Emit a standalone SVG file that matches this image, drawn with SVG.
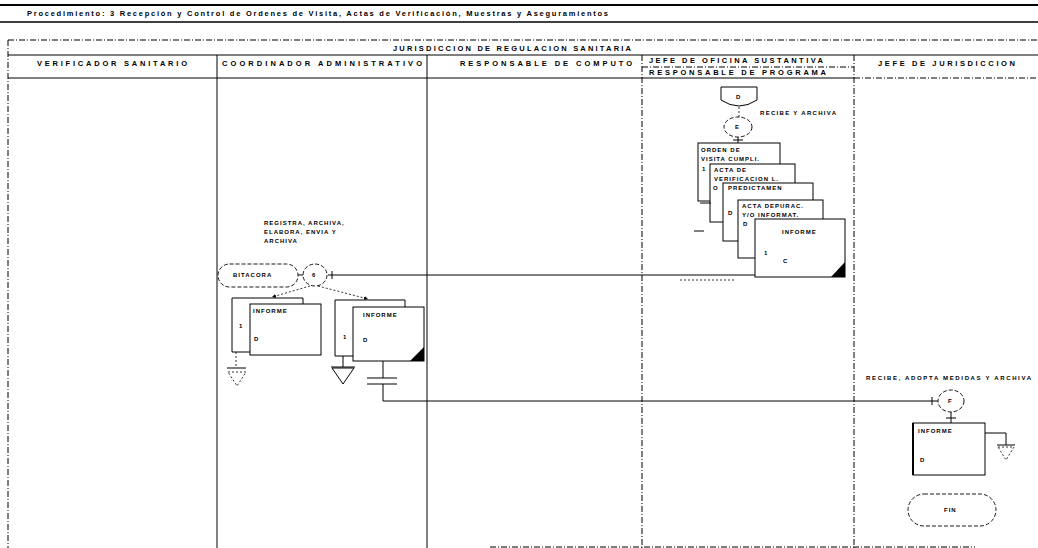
<svg xmlns="http://www.w3.org/2000/svg" width="1038" height="548" viewBox="0 0 1038 548">
<defs>
<style>
.t{font-family:"Liberation Sans",Arial,sans-serif;font-weight:bold;fill:#000}
.ti{font-size:7.5px}
.h{font-size:7.5px}
.s{font-size:6px;letter-spacing:1px}
.ln{stroke:#000;stroke-width:1;fill:none}
.dl{stroke:#000;stroke-width:1;fill:none;stroke-dasharray:6 2 1 2}
.dt{stroke:#000;stroke-width:0.8;fill:none;stroke-dasharray:2 2}
.doc{stroke:#000;stroke-width:1;fill:#fff}
.shape{stroke:#000;stroke-width:0.9;fill:#fff;stroke-dasharray:4 2}
</style>
<marker id="ar" viewBox="0 0 6 6" refX="6" refY="3" markerWidth="5" markerHeight="5" orient="auto"><path d="M0,0 L6,3 L0,6 Z" fill="#000"/></marker>
</defs>
<rect width="1038" height="548" fill="#fff"/>

<g id="frame">
<line x1="0" y1="5" x2="1038" y2="5" stroke="#000" stroke-width="2"/>
<line x1="0" y1="22" x2="1038" y2="22" stroke="#000" stroke-width="1.5"/>
<text class="t ti" x="27" y="16" textLength="581" lengthAdjust="spacing">Procedimiento: 3 Recepción y Control de Ordenes de Visita, Actas de Verificación, Muestras y Aseguramientos</text>
<line x1="8" y1="40" x2="1038" y2="40" class="dl"/>
<text class="t h" x="393" y="51" textLength="238" lengthAdjust="spacing">JURISDICCION DE REGULACION SANITARIA</text>
<line x1="8" y1="55" x2="1038" y2="55" class="ln"/>
<line x1="8" y1="78" x2="854" y2="78" class="ln"/>
<line x1="854" y1="78" x2="1038" y2="78" class="dl"/>
<line x1="642" y1="67" x2="854" y2="67" class="dl"/>
<line x1="8" y1="40" x2="8" y2="548" class="dl"/>
<line x1="217" y1="55" x2="217" y2="548" class="ln"/>
<line x1="427" y1="55" x2="427" y2="548" class="ln"/>
<line x1="642" y1="55" x2="642" y2="548" class="dl"/>
<line x1="854" y1="55" x2="854" y2="548" class="dl"/>
<line x1="490" y1="547" x2="975" y2="547" class="dl"/>
<text class="t h" x="37" y="66" textLength="150" lengthAdjust="spacing">VERIFICADOR SANITARIO</text>
<text class="t h" x="222" y="66" textLength="200" lengthAdjust="spacing">COORDINADOR ADMINISTRATIVO</text>
<text class="t h" x="460" y="66" textLength="172" lengthAdjust="spacing">RESPONSABLE DE COMPUTO</text>
<text class="t h" x="649" y="63" textLength="174" lengthAdjust="spacing">JEFE DE OFICINA SUSTANTIVA</text>
<text class="t h" x="649" y="75" textLength="177" lengthAdjust="spacing">RESPONSABLE DE PROGRAMA</text>
<text class="t h" x="878" y="66" textLength="137" lengthAdjust="spacing">JEFE DE JURISDICCION</text>
</g>

<g id="connectors">
<line x1="739" y1="107" x2="739" y2="117" class="dt"/>
<line x1="738" y1="137" x2="738" y2="143" class="ln"/>
<line x1="733" y1="140" x2="743" y2="140" class="ln"/>
<line x1="328" y1="275" x2="755" y2="275" class="ln"/>
<line x1="332" y1="271" x2="332" y2="279" class="ln"/>
<line x1="298" y1="275" x2="303" y2="275" class="ln"/>
<line x1="310" y1="286" x2="272" y2="297" class="dt" marker-end="url(#ar)"/>
<line x1="318" y1="286" x2="368" y2="299" class="dt" marker-end="url(#ar)"/>
<line x1="383" y1="361" x2="383" y2="378" class="ln"/>
<line x1="367" y1="378" x2="397" y2="378" class="ln" stroke-width="1.5"/>
<line x1="367" y1="384" x2="397" y2="384" class="ln" stroke-width="1.5"/>
<line x1="383" y1="384" x2="383" y2="401" class="ln"/>
<line x1="383" y1="401" x2="938" y2="401" class="ln"/>
<line x1="932" y1="397" x2="932" y2="405" class="ln"/>
<line x1="951" y1="412" x2="951" y2="423" class="ln"/>
<line x1="946" y1="418" x2="956" y2="418" class="ln"/>
</g>

<g id="node-d">
<path d="M721,87 H757 V100 Q739,112 721,100 Z" class="doc"/>
<text class="t s" x="736" y="99">D</text>
</g>

<g id="node-op5">
<text class="t s" x="760" y="115" textLength="77" lengthAdjust="spacing">RECIBE Y ARCHIVA</text>
<ellipse cx="738" cy="127" rx="14" ry="10" class="shape"/>
<text class="t s" x="735" y="129">E</text>
</g>

<g id="node-stack">
<rect x="698" y="143" width="82" height="58" class="doc"/>
<text class="t s" x="701" y="152">ORDEN DE</text>
<text class="t s" x="701" y="161">VISITA CUMPLI.</text>
<text class="t s" x="702" y="171">1</text>
<rect x="710" y="164" width="85" height="58" class="doc"/>
<text class="t s" x="714" y="172">ACTA DE</text>
<text class="t s" x="714" y="181">VERIFICACION L.</text>
<text class="t s" x="713" y="190">O</text>
<rect x="723" y="183" width="90" height="58" class="doc"/>
<text class="t s" x="728" y="190">PREDICTAMEN</text>
<text class="t s" x="728" y="215">D</text>
<rect x="738" y="200" width="85" height="58" class="doc"/>
<text class="t s" x="742" y="208">ACTA DEPURAC.</text>
<text class="t s" x="742" y="217">Y/O INFORMAT.</text>
<text class="t s" x="743" y="226">D</text>
<rect x="755" y="219" width="90" height="58" class="doc"/>
<text class="t s" x="782" y="234">INFORME</text>
<text class="t s" x="764" y="255">1</text>
<text class="t s" x="783" y="263">C</text>
<polygon points="845,262 845,277 831,277" fill="#000"/>
<line x1="700" y1="203" x2="711" y2="203" class="ln"/>
<line x1="694" y1="231" x2="704" y2="231" class="ln"/>
<line x1="680" y1="280" x2="735" y2="280" class="dt"/>
</g>

<g id="node-op6">
<text class="t s" x="264" y="225">REGISTRA, ARCHIVA,</text>
<text class="t s" x="264" y="234">ELABORA, ENVIA Y</text>
<text class="t s" x="264" y="243">ARCHIVA</text>
<ellipse cx="315" cy="275" rx="12" ry="11" class="shape"/>
<text class="t s" x="312" y="277">6</text>
</g>

<g id="node-bitacora">
<rect x="218" y="264" width="80" height="23" rx="11.5" class="shape"/>
<text class="t s" x="233" y="277">BITACORA</text>
</g>

<g id="node-informe-a">
<path d="M232,352 V298 H303 V304" class="doc"/>
<path d="M232,352 H250" class="ln"/>
<rect x="250" y="304" width="71" height="51" class="doc"/>
<text class="t s" x="253" y="313">INFORME</text>
<text class="t s" x="239" y="328">1</text>
<text class="t s" x="254" y="341">D</text>
<line x1="236" y1="352" x2="236" y2="368" class="dt"/>
<line x1="227" y1="368" x2="246" y2="368" class="ln"/>
<polygon points="228,372 246,372 237,386" class="dt"/>
</g>

<g id="node-informe-b">
<path d="M335,356 V300 H405 V307" class="doc"/>
<path d="M335,356 H353" class="ln"/>
<rect x="353" y="307" width="71" height="54" class="doc"/>
<text class="t s" x="363" y="317">INFORME</text>
<text class="t s" x="343" y="339">1</text>
<text class="t s" x="363" y="342">D</text>
<polygon points="424,347 424,361 410,361" fill="#000"/>
<line x1="343" y1="356" x2="343" y2="367" class="ln"/>
<line x1="331" y1="367" x2="355" y2="367" class="ln"/>
<polygon points="332,368 354,368 343,384" class="doc"/>
</g>

<g id="node-op7">
<text class="t s" x="866" y="380" textLength="166" lengthAdjust="spacing">RECIBE, ADOPTA MEDIDAS Y ARCHIVA</text>
<ellipse cx="951" cy="401" rx="13" ry="11" class="shape"/>
<text class="t s" x="948" y="403">F</text>
</g>

<g id="node-informe-c">
<rect x="913" y="423" width="72" height="52" class="doc"/>
<line x1="913" y1="423" x2="913" y2="475" stroke="#000" stroke-width="2"/>
<text class="t s" x="918" y="433">INFORME</text>
<text class="t s" x="920" y="462">D</text>
<path d="M985,433 H1006 V445" class="ln"/>
<line x1="997" y1="445" x2="1015" y2="445" class="ln"/>
<polygon points="998,447 1014,447 1006,460" class="dt"/>
</g>

<g id="node-fin">
<rect x="908" y="494" width="88" height="32" rx="16" class="shape"/>
<text class="t s" x="944" y="512">FIN</text>
</g>
</svg>
